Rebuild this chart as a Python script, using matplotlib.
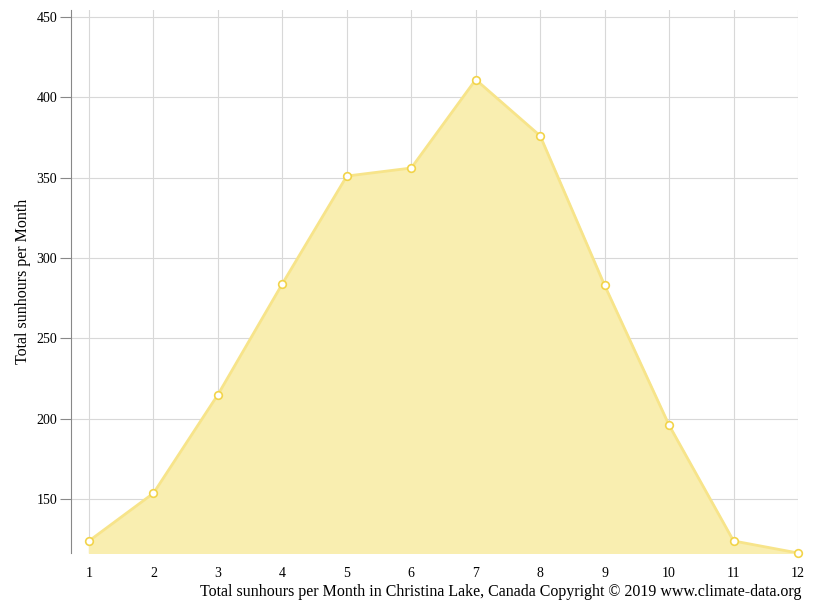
import matplotlib
matplotlib.use("Agg")
import matplotlib.pyplot as plt

months = list(range(1, 13))
sunhours = [124, 153.7, 215, 284, 351, 356, 411, 376, 283, 196, 124, 116.5]
yticks = [150, 200, 250, 300, 350, 400, 450]

plt.rcParams['font.family'] = ['Liberation Serif', 'DejaVu Serif']
fig = plt.figure(figsize=(8.15, 6.11), dpi=100)
ax = fig.add_axes([71/815, 1-553/611, (798-71)/815, (553-10)/611])
base = 116.5
ax.fill_between(months, sunhours, base, color='#f9eeb0', zorder=2)
ax.plot(months, sunhours, color='#f7e48a', lw=2, zorder=3)
ax.plot(months, sunhours, 'o', ms=5.5, mfc='white', mec='#f2d44a', mew=1.2, zorder=4, clip_on=False)
ax.set_xlim(1 - 18/64.45, 12)
ax.set_ylim(base, 454.3)
ax.set_xticks(months)
ax.set_yticks(yticks)
ax.grid(True, color='#d8d8d8', lw=0.8, zorder=1)
for s in ['top', 'right', 'bottom']:
    ax.spines[s].set_visible(False)
ax.spines['left'].set_color('#888888')
ax.tick_params(axis='x', length=0, pad=10, labelsize=10)
ax.tick_params(axis='y', length=8, color='#888888', labelsize=10, pad=2)
ax.set_ylabel('Total sunhours per Month', fontsize=11.5, labelpad=4)
fig.text(501/815, 1-592/611, 'Total sunhours per Month in Christina Lake, Canada Copyright © 2019 www.climate-data.org',
         ha='center', va='center', fontsize=11.5)
fig.savefig('out.png', dpi=100)
